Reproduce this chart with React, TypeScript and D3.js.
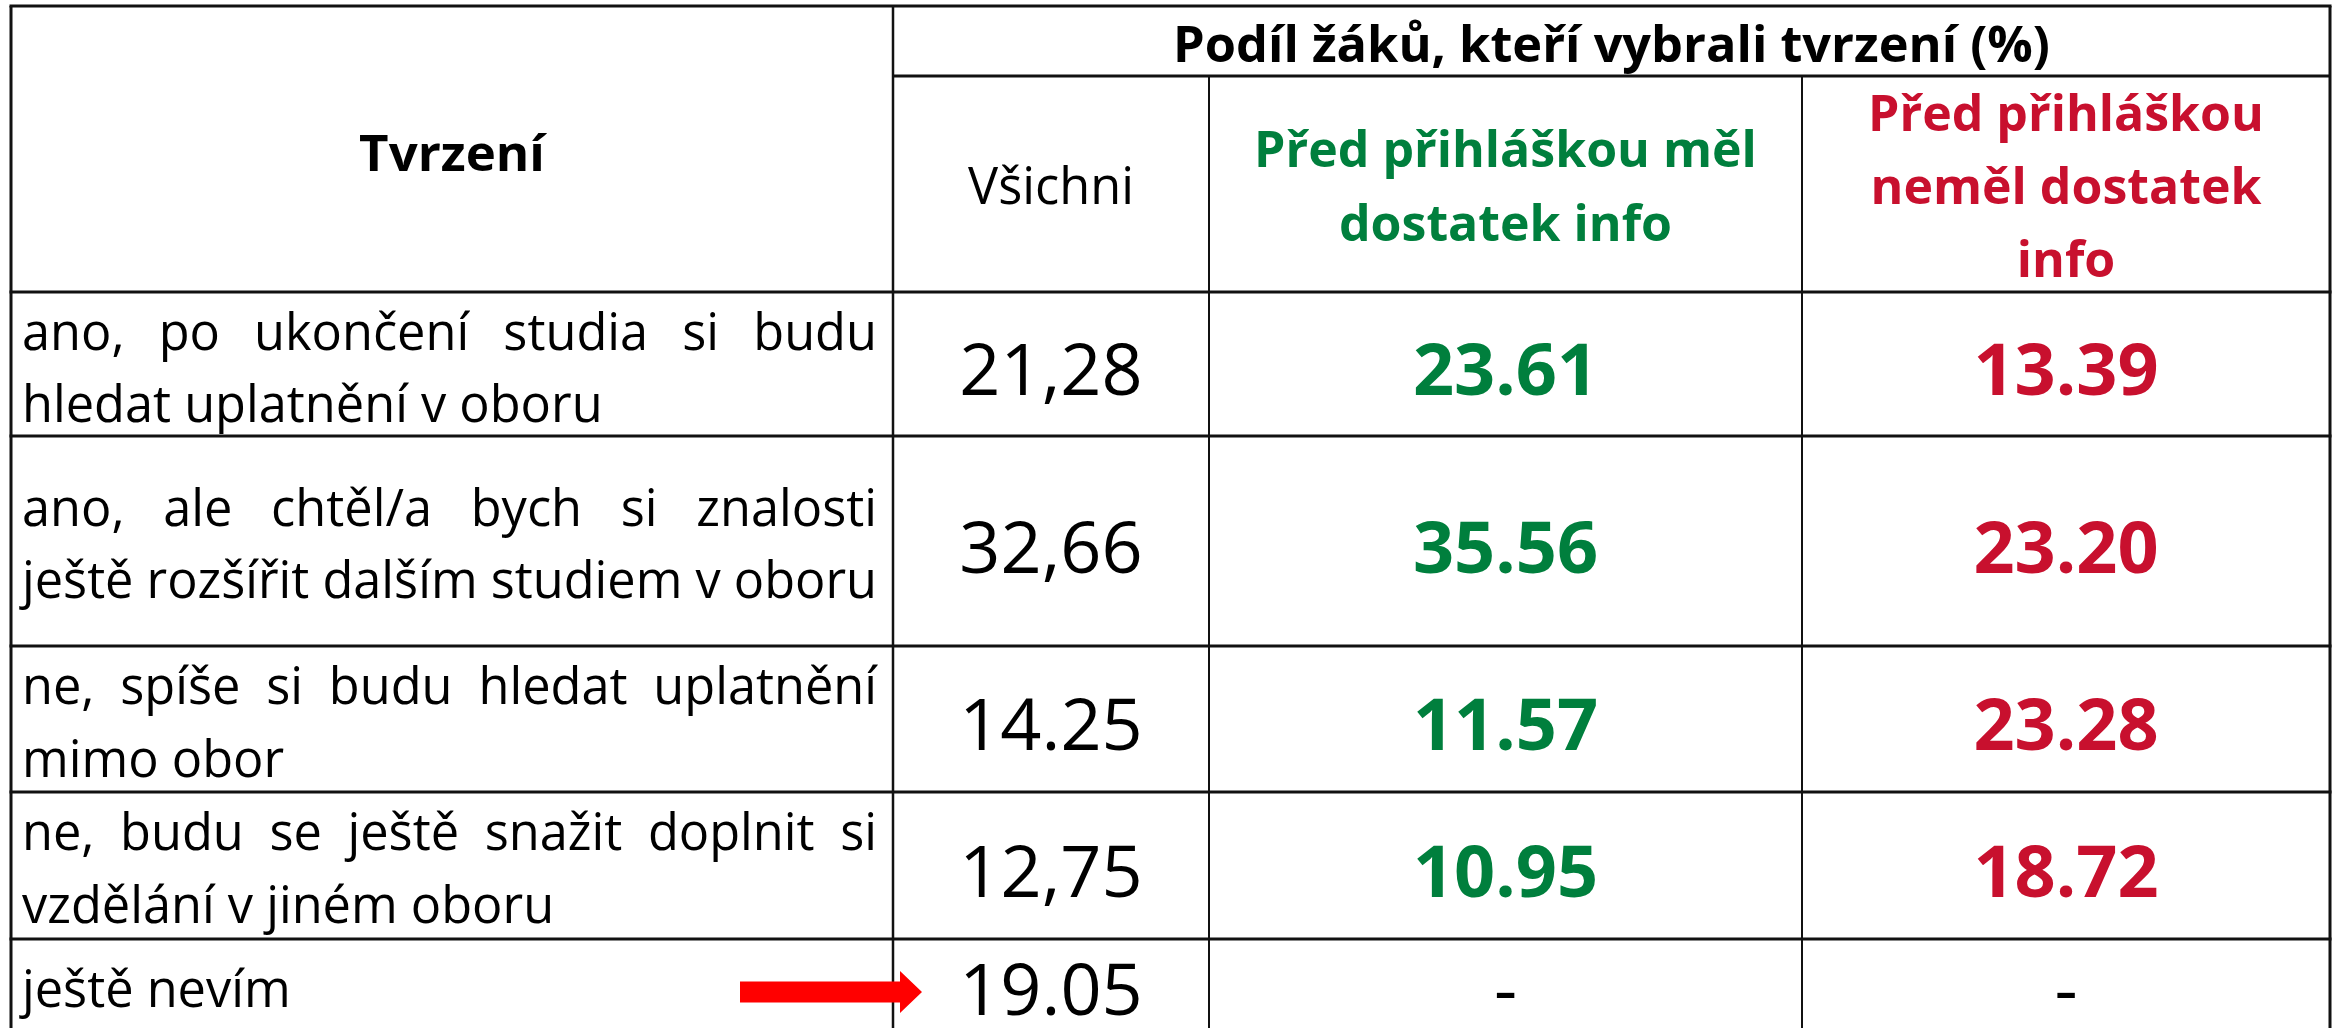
import React from "react";
import * as d3 from "d3";

// ---- data ----
const statementLines: string[][] = [
  ["ano, po ukončení studia si budu", "hledat uplatnění v oboru"],
  ["ano, ale chtěl/a bych si znalosti", "ještě rozšířit dalším studiem v oboru"],
  ["ne, spíše si budu hledat uplatnění", "mimo obor"],
  ["ne, budu se ještě snažit doplnit si", "vzdělání v jiném oboru"],
  ["ještě nevím"],
];
const allValues: string[] = ["21,28", "32,66", "14.25", "12,75", "19.05"];
const infoYesValues: (string | null)[] = ["23.61", "35.56", "11.57", "10.95", null];
const infoNoValues: (string | null)[] = ["13.39", "23.20", "23.28", "18.72", null];

const headStatement = "Tvrzení";
const headShare = "Podíl žáků, kteří vybrali tvrzení (%)";
const headAll = "Všichni";
const headYes = ["Před přihláškou měl", "dostatek info"];
const headNo = ["Před přihláškou", "neměl dostatek", "info"];

// ---- layout ----
const W = 2341;
const H = 1028;
const colEdges = [11, 893, 1209, 1802, 2330];
const rowEdges = [6, 292, 436, 646, 792, 939, 1060];
const headMid = 76;
const GREEN = "#007F3D";
const RED = "#C8102E";
const FONT = "'Open Sans', 'Noto Sans', sans-serif";

const ctx = typeof document !== "undefined" ? document.createElement("canvas").getContext("2d") : null;
function measure(text: string, size: number, weight = 400) {
  if (!ctx) return text.length * size * 0.5;
  ctx.font = `${weight} ${size}px 'Open Sans'`;
  return ctx.measureText(text).width;
}

const bodySize = 50.5;
const numSize = 72;
const headSize = 50;

function JustifiedLine({ text, x0, x1, y, justify }: { text: string; x0: number; x1: number; y: number; justify: boolean }) {
  if (!justify) {
    const w = measure(text, bodySize);
    const avail = x1 - x0;
    return (
      <text x={x0} y={y} fontSize={bodySize} fontFamily={FONT} fill="#000"
        {...(w > avail ? { textLength: avail, lengthAdjust: "spacingAndGlyphs" } : {})}>
        {text}
      </text>
    );
  }
  const words = text.split(" ");
  const widths = words.map((w) => measure(w, bodySize));
  const total = d3.sum(widths);
  const gap = (x1 - x0 - total) / (words.length - 1);
  let x = x0;
  return (
    <g>
      {words.map((w, i) => {
        const el = (
          <text key={i} x={x} y={y} fontSize={bodySize} fontFamily={FONT} fill="#000">
            {w}
          </text>
        );
        x += widths[i] + gap;
        return el;
      })}
    </g>
  );
}

export default function App() {
  const rows = d3.range(statementLines.length);
  const textBaselines = [[350, 422], [526, 598], [704, 777], [850, 923], [1007]];
  const numBaselines = [395, 573, 750, 897, 1015];
  const cx = (i: number) => (colEdges[i] + colEdges[i + 1]) / 2;

  const bodyX0 = 22;
  const bodyX1 = 877;

  // arrow geometry (row 5)
  const ay = 992;
  const arrow = d3.path();
  arrow.moveTo(740, ay - 10.5);
  arrow.lineTo(900, ay - 10.5);
  arrow.lineTo(900, ay - 21);
  arrow.lineTo(922, ay);
  arrow.lineTo(900, ay + 21);
  arrow.lineTo(900, ay + 10.5);
  arrow.lineTo(740, ay + 10.5);
  arrow.closePath();

  return (
    <svg width={W} height={H} style={{ position: "absolute", left: 0, top: 0, background: "#fff" }}>
      <rect x={0} y={0} width={W} height={H} fill="#fff" />
      {/* header texts */}
      <text x={cx(0)} y={171} textAnchor="middle" fontSize={51} fontWeight={700} fontFamily={FONT}>{headStatement}</text>
      <text x={(colEdges[1] + colEdges[4]) / 2} y={62} textAnchor="middle" fontSize={50.5} fontWeight={700} fontFamily={FONT}>{headShare}</text>
      <text x={cx(1)} y={204} textAnchor="middle" fontSize={50.5} fontFamily={FONT}>{headAll}</text>
      {headYes.map((t, i) => (
        <text key={i} x={cx(2)} y={[167, 241][i]} textAnchor="middle" fontSize={headSize} fontWeight={700} fontFamily={FONT} fill={GREEN}>{t}</text>
      ))}
      {headNo.map((t, i) => (
        <text key={i} x={cx(3)} y={[131, 204, 277][i]} textAnchor="middle" fontSize={headSize} fontWeight={700} fontFamily={FONT} fill={RED}>{t}</text>
      ))}

      {/* body */}
      {rows.map((r) => (
        <g key={r}>
          {statementLines[r].map((line, li) => (
            <JustifiedLine key={li} text={line} x0={bodyX0} x1={bodyX1} y={textBaselines[r][li]}
              justify={li < statementLines[r].length - 1} />
          ))}
          <text x={cx(1)} y={numBaselines[r]} textAnchor="middle" fontSize={numSize} fontFamily={FONT}>{allValues[r]}</text>
          {infoYesValues[r] === null ? (
            <text x={cx(2)} y={numBaselines[r]} textAnchor="middle" fontSize={numSize} fontFamily={FONT}>-</text>
          ) : (
            <text x={cx(2)} y={numBaselines[r]} textAnchor="middle" fontSize={numSize} fontWeight={700} fontFamily={FONT} fill={GREEN}>{infoYesValues[r]}</text>
          )}
          {infoNoValues[r] === null ? (
            <text x={cx(3)} y={numBaselines[r]} textAnchor="middle" fontSize={numSize} fontFamily={FONT}>-</text>
          ) : (
            <text x={cx(3)} y={numBaselines[r]} textAnchor="middle" fontSize={numSize} fontWeight={700} fontFamily={FONT} fill={RED}>{infoNoValues[r]}</text>
          )}
        </g>
      ))}

      {/* grid lines */}
      <g stroke="#111" fill="none">
        {rowEdges.slice(0, -1).map((y, i) => (
          <line key={"h" + i} x1={colEdges[0] - 1.5} x2={colEdges[4] + 1.5} y1={y} y2={y} strokeWidth={3} />
        ))}
        <line x1={colEdges[1]} x2={colEdges[4]} y1={headMid} y2={headMid} strokeWidth={3} />
        <line x1={colEdges[0]} x2={colEdges[0]} y1={rowEdges[0]} y2={H} strokeWidth={3} />
        <line x1={colEdges[1]} x2={colEdges[1]} y1={rowEdges[0]} y2={H} strokeWidth={2.5} />
        <line x1={colEdges[2]} x2={colEdges[2]} y1={headMid} y2={H} strokeWidth={2} />
        <line x1={colEdges[3]} x2={colEdges[3]} y1={headMid} y2={H} strokeWidth={2} />
        <line x1={colEdges[4]} x2={colEdges[4]} y1={rowEdges[0]} y2={H} strokeWidth={3} />
      </g>

      {/* arrow */}
      <path d={arrow.toString()} fill="#FF0000" />
    </svg>
  );
}
